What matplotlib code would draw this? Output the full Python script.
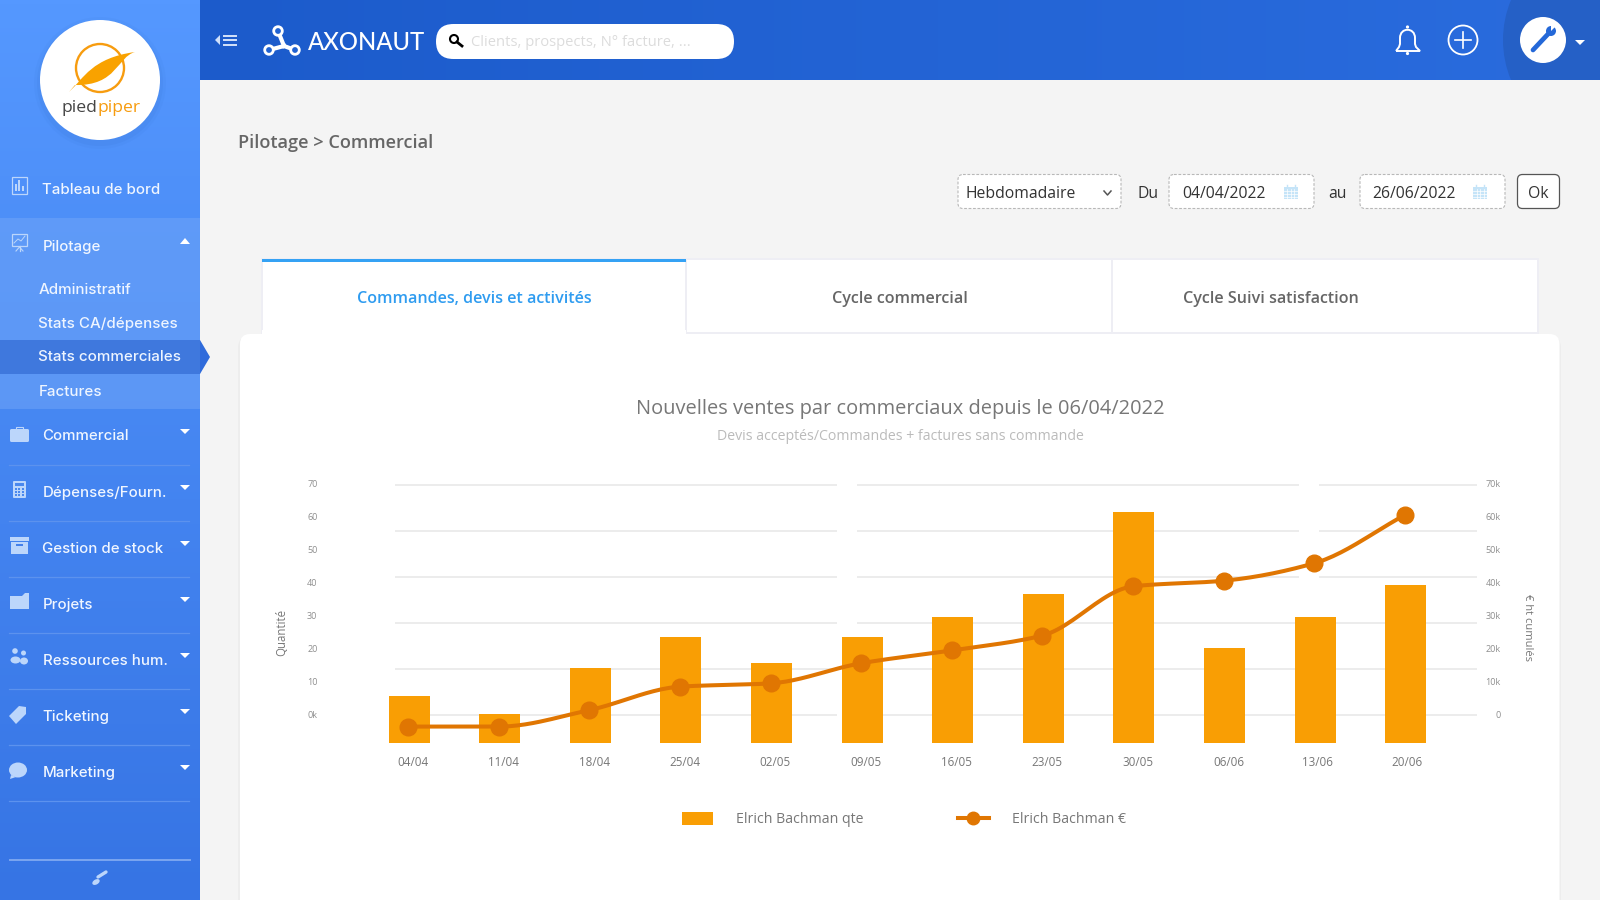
import numpy as np
import matplotlib
matplotlib.use("Agg")
import matplotlib.pyplot as plt
from matplotlib.patches import Rectangle, Circle, FancyBboxPatch, Polygon, PathPatch, Ellipse
from matplotlib.path import Path
from matplotlib.lines import Line2D
from matplotlib.colors import LinearSegmentedColormap

plt.rcParams['font.family'] = ['Open Sans', 'DejaVu Sans']

# ---- data
weeks = ['04/04', '11/04', '18/04', '25/04', '02/05', '09/05', '16/05', '23/05', '30/05', '06/06', '13/06', '20/06']
qty = [5.8, 0.3, 14.2, 23.6, 15.8, 23.6, 29.7, 36.7, 61.5, 20.3, 29.7, 39.4]
euros = [-3600, -3600, 1400, 8500, 9500, 15600, 19500, 24000, 38900, 40600, 45900, 60500]
left_ticks = [0, 10, 20, 30, 40, 50, 60, 70]
left_labels = ['0k', '10', '20', '30', '40', '50', '60', '70']
right_ticks = [0, 10000, 20000, 30000, 40000, 50000, 60000, 70000]
right_labels = ['0', '10k', '20k', '30k', '40k', '50k', '60k', '70k']
grid_levels = [0, 1, 2, 3, 4, 5]
menu_main = [('Tableau de bord', 42, 190.5), ('Pilotage', 43, 246.5), ('Commercial', 42.5, 436.5),
             ('Dépenses/Fourn.', 43, 493), ('Gestion de stock', 42.5, 549), ('Projets', 43, 605),
             ('Ressources hum.', 43, 661), ('Ticketing', 42, 717), ('Marketing', 43, 773)]
menu_sub = [('Administratif', 38.5, 290), ('Stats CA/dépenses', 38.5, 324),
            ('Stats commerciales', 38.5, 357), ('Factures', 39, 392)]
tabs = [('Commandes, devis et activités', 474.5, 262, 686), ('Cycle commercial', 900, 686, 1112),
        ('Cycle Suivi satisfaction', 1271, 1112, 1537.5)]

BAR = '#f99e04'
LINE = '#e07602'
W, H = 1600, 900
fig = plt.figure(figsize=(16, 9), dpi=100)


def axes_px(l, t, r, b, **kw):
    return fig.add_axes([l / W, 1 - b / H, (r - l) / W, (b - t) / H], **kw)


def gradient(ax, c0, c1, extent, horizontal=False):
    cm = LinearSegmentedColormap.from_list('g', [c0, c1])
    g = np.linspace(0, 1, 256)
    g = g.reshape(1, -1) if horizontal else g.reshape(-1, 1)
    ax.imshow(g, cmap=cm, extent=extent, aspect='auto', zorder=1)


# ---- page chrome, pixel coordinates
bg = fig.add_axes([0, 0, 1, 1], zorder=0)
bg.set_axis_off()
bg.add_patch(Rectangle((0, 0), W, H, fc='#f4f4f4', ec='none', zorder=0))
gradient(bg, '#5598ff', '#3674e4', (0, 200, 900, 0))
gradient(bg, '#1c5bcb', '#2a6cde', (200, W, 80, 0), horizontal=True)
bg.set_xlim(0, W)
bg.set_ylim(H, 0)

# header
hdr_clip = Rectangle((200, 0), 1400, 80, transform=bg.transData)
e = Circle((1607, 40), 104, fc='#2560c6', ec='none', zorder=2)
bg.add_patch(e)
e.set_clip_path(hdr_clip)
bg.add_patch(Circle((1543, 40), 23, fc='white', ec='none', zorder=3))
bg.plot([1533, 1549], [50, 33], color='#2468d8', lw=3.4, solid_capstyle='round', zorder=4)
bg.add_patch(Circle((1551, 31), 5, fc='#2468d8', ec='none', zorder=4))
bg.add_patch(Polygon([[1551, 31], [1558, 24], [1551, 23]], fc='white', ec='none', zorder=5))
bg.add_patch(Polygon([[1575, 40], [1585, 40], [1580, 45]], fc='white', ec='none', zorder=4))
bg.add_patch(Circle((1463, 40), 14.5, fc='none', ec='white', lw=1.3, zorder=4))
bg.plot([1455, 1471], [40, 40], color='white', lw=1.2, zorder=4)
bg.plot([1463, 1463], [32, 48], color='white', lw=1.2, zorder=4)
bell = Path([(1396, 51), (1399, 47), (1400, 44), (1400, 38), (1400, 27), (1415, 27), (1415, 38),
             (1415, 44), (1416, 47), (1420, 51), (1396, 51)],
            [1, 2, 2, 2, 4, 4, 4, 2, 2, 2, 2])
bg.add_patch(PathPatch(bell, fc='none', ec='white', lw=1.4, zorder=4))
bg.add_patch(Circle((1407.5, 27), 1.6, fc='white', ec='none', zorder=4))
bg.add_patch(Circle((1407.5, 53.5), 1.6, fc='white', ec='none', zorder=4))
# menu toggle
for y in (35.5, 40, 44.5):
    bg.plot([224, 236], [y, y], color='#d5e3fb', lw=1.4, zorder=4)
bg.add_patch(Polygon([[220, 35], [220, 45], [215, 40]], fc='#cfe0fb', ec='none', zorder=4))
# axonaut logo
for a, b in (((278, 31), (284, 46)), ((269, 50), (284, 46)), ((284, 46), (295, 50))):
    bg.plot([a[0], b[0]], [a[1], b[1]], color='white', lw=3, zorder=4)
for c in ((278, 31), (269, 50), (295, 50)):
    bg.add_patch(Circle(c, 4.3, fc='#2163d2', ec='white', lw=2, zorder=5))
bg.text(308, 43, 'AXONAUT', color='white', fontsize=17.2, family='Lato', weight='medium', va='center', ha='left', zorder=5)
# search
bg.add_patch(FancyBboxPatch((436, 24), 298, 35, boxstyle='round,pad=0,rounding_size=17.5',
                            fc='white', ec='none', zorder=3))
bg.add_patch(Circle((454, 39), 4, fc='none', ec='black', lw=1.5, zorder=4))
bg.plot([457, 462], [42, 46], color='black', lw=2, zorder=4)
bg.text(471, 43, 'Clients, prospects, N° facture, ...', color='#dcdcdc', fontsize=10.6, va='center', zorder=4)

# sidebar
bg.add_patch(Rectangle((0, 218), 200, 191, fc='#6ea4f8', alpha=.55, ec='none', zorder=2))
bg.add_patch(Rectangle((0, 340), 200, 34, fc='#3f78dd', ec='none', zorder=3))
bg.add_patch(Polygon([[200, 340], [210, 357], [200, 374]], fc='#2f6bdb', ec='none', zorder=3))
for y in (465, 521, 577, 633, 689, 745, 801):
    bg.plot([9, 189], [y, y], color='#5c92ee', lw=.9, zorder=3)
bg.plot([10, 190], [860, 860], color='#7ba6f0', lw=1.4, zorder=3)
for t, x, y in menu_main:
    bg.text(x, y, t, color='#f0f6ff', fontsize=10.8, family='Inter', weight='medium', va='center', ha='left', zorder=4)
for t, x, y in menu_sub:
    bg.text(x, y, t, color='#eef5ff', fontsize=10.9, family='Inter', weight='medium', va='center', ha='left', zorder=4)
for y in (431, 487, 543, 599, 655, 711, 767):
    bg.add_patch(Polygon([[180, y - 2], [190, y - 2], [185, y + 3]], fc='white', ec='none', zorder=4))
bg.add_patch(Polygon([[180, 244], [190, 244], [185, 238]], fc='white', ec='none', zorder=4))
ICON = '#bcd6fb'
# tableau
bg.add_patch(Rectangle((11.5, 177), 15, 17, fc='none', ec=ICON, lw=.9, zorder=4))
for x, h in ((15.5, 7), (19, 11), (22.5, 5)):
    bg.add_patch(Rectangle((x - 1, 191 - h), 2, h, fc=ICON, ec='none', zorder=4))
# pilotage
bg.add_patch(Rectangle((12, 234), 15, 12, fc='none', ec=ICON, lw=.9, zorder=4))
bg.plot([14, 18, 21, 25], [243, 239, 241, 236], color=ICON, lw=.7, zorder=4)
bg.plot([19.5, 19.5], [246, 251], color=ICON, lw=.9, zorder=4)
bg.plot([16, 19.5, 23], [251, 247, 251], color=ICON, lw=.8, zorder=4)
# briefcase
bg.add_patch(FancyBboxPatch((10, 429), 19, 13, boxstyle='round,pad=0,rounding_size=1.5', fc=ICON, ec='none', zorder=4))
bg.add_patch(Rectangle((16, 426.5), 7, 3, fc='none', ec=ICON, lw=.8, zorder=4))
# calculator
bg.add_patch(FancyBboxPatch((13, 481), 13, 17, boxstyle='round,pad=0,rounding_size=1', fc=ICON, ec='none', zorder=4))
bg.add_patch(Rectangle((15, 483), 9, 3, fc='#4a88ee', ec='none', zorder=5))
for i in range(3):
    for j in range(3):
        bg.add_patch(Rectangle((15 + 3.3 * i, 488 + 3 * j), 2, 1.8, fc='#4a88ee', ec='none', zorder=5))
# archive
bg.add_patch(Rectangle((10, 537), 19, 3.5, fc=ICON, ec='none', zorder=4))
bg.add_patch(Rectangle((11, 542), 17, 12, fc=ICON, ec='none', zorder=4))
bg.add_patch(Rectangle((16, 544), 7, 1.5, fc='#4380ea', ec='none', zorder=5))
# folder
bg.add_patch(Polygon([[10, 596], [22, 596], [25, 593], [29, 593], [29, 609], [10, 609]], fc=ICON, ec='none', zorder=4))
# people
bg.add_patch(Circle((15, 651), 2.8, fc=ICON, ec='none', zorder=4))
bg.add_patch(Circle((23.5, 653), 2.5, fc=ICON, ec='none', zorder=4))
bg.add_patch(Ellipse((15.5, 660), 10, 7, fc=ICON, ec='none', zorder=4))
bg.add_patch(Ellipse((24, 661), 8, 7, fc=ICON, ec='none', zorder=4))
# tag
bg.add_patch(Polygon([[9, 716], [19, 706], [26, 707], [26, 714], [16, 724]], fc=ICON, ec='none', zorder=4))
# bubble
bg.add_patch(Ellipse((18, 770), 18, 15, fc=ICON, ec='none', zorder=4))
bg.add_patch(Polygon([[11, 775], [10, 779], [16, 777]], fc=ICON, ec='none', zorder=4))
# brush
bg.plot([98, 106], [877, 872], color='#bcd6fb', lw=2.4, zorder=4, solid_capstyle='round')
bg.add_patch(Ellipse((96, 882), 8, 5, angle=-30, fc='#bcd6fb', ec='none', zorder=4))

# logo
for r, a in ((66, .04), (63, .06)):
    bg.add_patch(Circle((100, 83), r, fc='#1c4ea8', alpha=a, ec='none', zorder=3))
bg.add_patch(Circle((100, 80), 60, fc='white', ec='none', zorder=4))
bg.add_patch(Circle((100, 68), 24, fc='none', ec='#f79c0f', lw=1.7, zorder=5))
feather = Path([(69, 92), (84, 78), (92, 58), (135, 52), (117, 57), (117, 86), (75, 85), (69, 92)],
               [1, 4, 4, 4, 4, 4, 4, 2])
bg.add_patch(PathPatch(feather, fc='#f9a200', ec='none', zorder=6))
bg.text(97.5, 107.5, 'pied', color='#444444', fontsize=12.6, ha='right', va='center', zorder=6)
bg.text(97.5, 107.5, 'piper', color='#f79c0f', fontsize=12.6, ha='left', va='center', zorder=6)

# content headings and filters
bg.text(238.5, 143.5, 'Pilotage > Commercial', color='#666666', fontsize=13.1, weight='semibold', va='center', zorder=3)
DASH = dict(boxstyle='round,pad=0,rounding_size=5', fc='white', ec='#b8b8b8', lw=.8, ls=(0, (2.5, 1.5)), zorder=3)
bg.add_patch(FancyBboxPatch((958, 174.5), 163, 34, **DASH))
bg.add_patch(FancyBboxPatch((1169, 174.5), 145, 34, **DASH))
bg.add_patch(FancyBboxPatch((1360, 174.5), 145, 34, **DASH))
bg.add_patch(FancyBboxPatch((1517.5, 174.5), 42, 34, boxstyle='round,pad=0,rounding_size=5', fc='white', ec='#555555', lw=.9, zorder=3))
FILT = dict(color='#333333', fontsize=11.3, va='center', zorder=4)
bg.text(965.5, 194, 'Hebdomadaire', **FILT)
bg.text(1137.5, 194, 'Du', **FILT)
bg.text(1182.5, 194, '04/04/2022', **FILT)
bg.text(1328, 194, 'au', **FILT)
bg.text(1372.5, 194, '26/06/2022', **FILT)
bg.text(1538.5, 194, 'Ok', ha='center', **FILT)
bg.plot([1104, 1107.5, 1111], [191, 195, 191], color='#555555', lw=1.1, zorder=4)
for cx in (1290.5, 1480):
    bg.add_patch(Rectangle((cx - 7, 187), 14, 12, fc='#c5e4f8', ec='none', zorder=4))
    bg.plot([cx - 4, cx - 4], [185, 188], color='#c5e4f8', lw=1, zorder=4)
    bg.plot([cx + 4, cx + 4], [185, 188], color='#c5e4f8', lw=1, zorder=4)
    for k in (-3.5, 0, 3.5):
        bg.plot([cx + k, cx + k], [189, 199], color='white', lw=.5, zorder=5)
    for k in (191, 194, 197):
        bg.plot([cx - 7, cx + 7], [k, k], color='white', lw=.5, zorder=5)

# tabs
for i, (t, cx, l, r) in enumerate(tabs):
    bg.add_patch(Rectangle((l, 258.5), r - l, 75.5 if i == 0 else 74, fc='white',
                           ec='#eeeef4', lw=1.4, zorder=3))
    bg.text(cx, 299, t, color='#2f9cf0' if i == 0 else '#666666', fontsize=11.6,
            weight='semibold', ha='center', va='center', zorder=6)
bg.add_patch(Rectangle((262, 258.5), 424, 3, fc='#35a2f4', ec='none', zorder=5))
# card
bg.add_patch(FancyBboxPatch((238, 336), 1323, 600, boxstyle='round,pad=0,rounding_size=12', fc='#ededed', ec='none', zorder=3))
bg.add_patch(FancyBboxPatch((240, 334), 1319.5, 600, boxstyle='round,pad=0,rounding_size=10', fc='white', ec='none', zorder=4))
bg.add_patch(Rectangle((262, 330), 424, 8, fc='white', ec='none', zorder=4))
bg.text(900, 409, 'Nouvelles ventes par commerciaux depuis le 06/04/2022', color='#777777',
        fontsize=14.4, ha='center', va='center', zorder=5)
bg.text(900, 436.7, 'Devis acceptés/Commandes + factures sans commande', color='#bbbbbb',
        fontsize=10.15, ha='center', va='center', zorder=5)

# ---- chart
TOP, BOTTOM, ZERO, PER10 = 480, 743, 714.7, 3.3
GL, GR = 395, 1477
grid_ax = axes_px(GL, TOP, GR, BOTTOM, zorder=1)
grid_ax.patch.set_visible(False)
gy0, gy1 = (ZERO - BOTTOM) / 46, (ZERO - TOP) / 46
grid_ax.set_ylim(gy0, gy1)
grid_ax.set_xlim(GL, GR)
grid_ax.set_yticks(grid_levels)
grid_ax.set_yticklabels([])
grid_ax.set_xticks([])
grid_ax.tick_params(length=0)
grid_ax.grid(axis='y', color='#ececec', lw=1.4)
grid_ax.set_axisbelow(True)
for s in grid_ax.spines.values():
    s.set_visible(False)
for gx0, gx1 in ((837, 857), (1299, 1319)):
    grid_ax.add_patch(Rectangle((gx0, gy0), gx1 - gx0, gy1 - gy0, fc='white', ec='none', zorder=1))

AL, AR = 380, 1480
X0, STEP = 409, 90.6
x = np.arange(len(weeks))
ax = axes_px(AL, TOP, AR, BOTTOM, zorder=2)
ax.patch.set_visible(False)
ax.set_xlim((AL - X0) / STEP, (AR - X0) / STEP)
ymin, ymax = (ZERO - BOTTOM) / PER10, (ZERO - TOP) / PER10
ax.set_ylim(ymin, ymax)
bars = ax.bar(x, np.array(qty) - ymin, bottom=ymin, width=41 / STEP, color=BAR, label='Elrich Bachman qte', zorder=2)
# invisible ticks sit where the labels are centred in the reference
label_nudge = np.array([4, 4, 4, 4, 4, 4, 4, 4, 4, 4, 2, 1.5]) / STEP
ax.set_xticks(x + label_nudge)
ax.set_xticklabels(weeks, color='#777777', fontsize=8.4)
ax.tick_params(axis='x', length=0, pad=9.7)
ax.set_yticks(left_ticks)
ax.set_yticklabels(left_labels, color='#8e8e8e', fontsize=6.5)
ax.tick_params(axis='y', length=0, pad=45)
ax.set_ylabel('Quantité', color='#777777', fontsize=8.3, va='center')
ax.yaxis.set_label_coords((281.6 - AL) / (AR - AL), (BOTTOM - 632) / (BOTTOM - TOP))
for s in ax.spines.values():
    s.set_visible(False)

ax2 = ax.twinx()
ax2.set_ylim(ymin * 1000, ymax * 1000)
ax2.set_yticks(right_ticks)
ax2.set_yticklabels(right_labels, color='#8e8e8e', fontsize=6.5, ha='right')
ax2.tick_params(axis='y', length=0, pad=15)
ax2.set_ylabel('€ ht cumulés', color='#777777', fontsize=8, rotation=-90, va='center')
ax2.yaxis.set_label_coords((1527.5 - AL) / (AR - AL), (BOTTOM - 628) / (BOTTOM - TOP))
for s in ax2.spines.values():
    s.set_visible(False)


def smooth(xs, ys, n=24):
    """Monotone cubic curve through the read values (the chart's own line smoothing)."""
    xs, ys = np.asarray(xs, float), np.asarray(ys, float)
    d = np.diff(ys) / np.diff(xs)
    m = np.zeros_like(ys)
    m[0], m[-1] = d[0], d[-1]
    for i in range(1, len(ys) - 1):
        m[i] = 0 if d[i - 1] * d[i] <= 0 else 2 * d[i - 1] * d[i] / (d[i - 1] + d[i])
    px_, py_ = [], []
    for i in range(len(xs) - 1):
        t = np.linspace(0, 1, n, endpoint=False)
        h = xs[i + 1] - xs[i]
        y_ = ((2 * t**3 - 3 * t**2 + 1) * ys[i] + (t**3 - 2 * t**2 + t) * h * m[i]
              + (-2 * t**3 + 3 * t**2) * ys[i + 1] + (t**3 - t**2) * h * m[i + 1])
        px_.extend(xs[i] + t * h)
        py_.extend(y_)
    px_.append(xs[-1])
    py_.append(ys[-1])
    return px_, py_


sx, sy = smooth(x - 0.008, euros)
ax2.plot(sx, sy, color=LINE, lw=2.9, zorder=3, solid_capstyle='round')
ax2.plot(x - 0.008, euros, ls='none', marker='o', ms=12, mfc=LINE, mec=LINE, zorder=4)

handles = [bars, Line2D([0], [0], color=LINE, lw=2.9, marker='o', ms=9)]
leg = fig.legend(handles, ['Elrich Bachman qte', 'Elrich Bachman €'], loc='center', ncol=2, frameon=False,
                 bbox_to_anchor=(904 / W, 1 - 819.5 / H), fontsize=10.2, labelcolor='#777777',
                 handlelength=2.18, handleheight=1.03, handletextpad=1.62, columnspacing=6.65, borderpad=0)
leg.set_zorder(5)
fig.savefig('out.png', dpi=100)
